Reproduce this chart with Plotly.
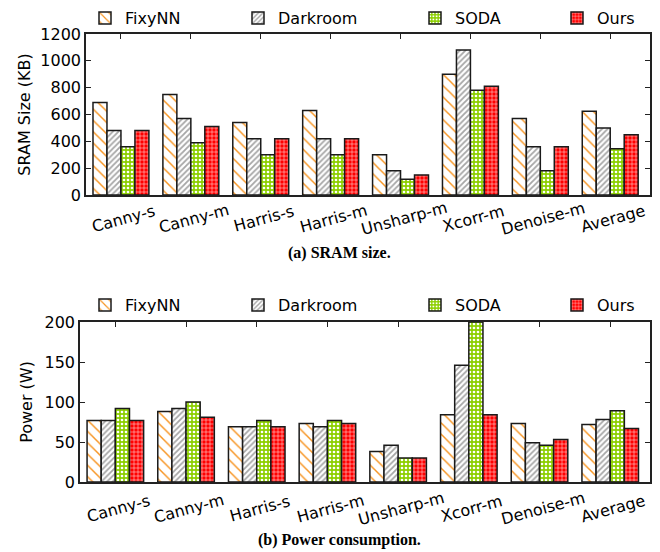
import plotly.graph_objects as go

categories = ["Canny-s", "Canny-m", "Harris-s", "Harris-m", "Unsharp-m", "Xcorr-m", "Denoise-m", "Average"]
series_names = ["FixyNN", "Darkroom", "SODA", "Ours"]

sram_fixynn = [690, 750, 540, 630, 300, 900, 570, 625]
sram_darkroom = [480, 570, 420, 420, 180, 1080, 360, 500]
sram_soda = [360, 390, 300, 300, 117, 780, 180, 345]
sram_ours = [480, 510, 420, 420, 150, 810, 360, 450]

power_fixynn = [77, 88, 69, 73, 38, 84, 73, 72]
power_darkroom = [77, 92, 69, 69, 46, 146, 49, 78]
power_soda = [92, 100, 77, 77, 30, 200, 46, 89]
power_ours = [77, 81, 69, 73, 30, 84, 53, 67]

sram_ticks = [0, 200, 400, 600, 800, 1000, 1200]
power_ticks = [0, 50, 100, 150, 200]

W, H = 660, 552
FONT = "DejaVu Sans"

styles = {
    "FixyNN": dict(color="white", pattern=dict(shape="\\", fgcolor="#f7931e", bgcolor="white", size=8, solidity=0.18, fillmode="replace")),
    "Darkroom": dict(color="white", pattern=dict(shape="/", fgcolor="#a6a6a6", bgcolor="white", size=4, solidity=0.45, fillmode="replace")),
    "SODA": dict(color="#8ccf00", pattern=dict(shape=".", fgcolor="white", bgcolor="#8ccf00", size=4, solidity=0.35, fillmode="replace")),
    "Ours": dict(color="#ff0000", pattern=dict(shape="+", fgcolor="white", bgcolor="#ff0000", size=4, solidity=0.22, fillmode="replace")),
}

fig = go.Figure()

top_data = [sram_fixynn, sram_darkroom, sram_soda, sram_ours]
bot_data = [power_fixynn, power_darkroom, power_soda, power_ours]

for i, (name, vals) in enumerate(zip(series_names, top_data)):
    st = styles[name]
    fig.add_trace(go.Bar(
        x=categories, y=vals, name=name, xaxis="x", yaxis="y",
        legend="legend" if i == 0 else f"legend{i+1}",
        marker=dict(color=st["color"], pattern=st["pattern"], line=dict(color="#1a1a1a", width=1.5)),
    ))
for i, (name, vals) in enumerate(zip(series_names, bot_data)):
    st = styles[name]
    fig.add_trace(go.Bar(
        x=categories, y=vals, name=name, xaxis="x2", yaxis="y2",
        legend=f"legend{i+5}",
        marker=dict(color=st["color"], pattern=st["pattern"], line=dict(color="#1a1a1a", width=1.5)),
    ))

def px_x(p):
    return p / W

def px_y(p):
    return 1 - p / H

axis_common = dict(showline=True, linecolor="#222", linewidth=1.5, mirror="ticks",
                   ticks="inside", ticklen=5, tickcolor="#222", showgrid=False, zeroline=False,
                   tickfont=dict(family=FONT, size=16, color="black"))

layout = dict(
    width=W, height=H,
    margin=dict(l=0, r=0, t=0, b=0, autoexpand=False),
    showlegend=True,
    paper_bgcolor="white", plot_bgcolor="white",
    barmode="group", bargap=0.2, bargroupgap=0,
    font=dict(family=FONT, size=16, color="black"),
    xaxis=dict(domain=[px_x(86), px_x(650)], anchor="y", showticklabels=False, **axis_common),
    yaxis=dict(domain=[px_y(195), px_y(34)], anchor="x", range=[0, 1200], tickvals=sram_ticks,
               title=dict(text="SRAM Size (KB)", font=dict(family=FONT, size=16), standoff=6), **axis_common),
    xaxis2=dict(domain=[px_x(80), px_x(650)], anchor="y2", showticklabels=False, **axis_common),
    yaxis2=dict(domain=[px_y(482), px_y(322)], anchor="x2", range=[0, 200], tickvals=power_ticks,
                title=dict(text="Power (W)", font=dict(family=FONT, size=16), standoff=8), **axis_common),
)

text_x = [125, 278, 455, 597]
for row, ycen in enumerate([18, 305]):
    for j, tx in enumerate(text_x):
        idx = row * 4 + j
        key = "legend" if idx == 0 else f"legend{idx+1}"
        layout[key] = dict(x=px_x(tx - 40), y=px_y(ycen), xanchor="left", yanchor="middle",
                           orientation="h", bgcolor="rgba(0,0,0,0)", borderwidth=0,
                           font=dict(family=FONT, size=16, color="black"))

fig.update_layout(**layout)

annotations = []
for cat in categories:
    annotations.append(dict(x=cat, y=px_y(218), xref="x", yref="paper", text=cat, showarrow=False,
                            xanchor="center", yanchor="middle",
                            textangle=-15, xshift=3, font=dict(family=FONT, size=16, color="black")))
    annotations.append(dict(x=cat, y=px_y(508), xref="x2", yref="paper", text=cat, showarrow=False,
                            xanchor="center", yanchor="middle",
                            textangle=-15, xshift=3, font=dict(family=FONT, size=16, color="black")))
annotations.append(dict(x=px_x(339), y=px_y(253), xref="paper", yref="paper", text="<b>(a) SRAM size.</b>",
                        xanchor="center", yanchor="middle",
                        showarrow=False, font=dict(family="Liberation Serif", size=16, color="black")))
annotations.append(dict(x=px_x(339), y=px_y(540), xref="paper", yref="paper", text="<b>(b) Power consumption.</b>",
                        xanchor="center", yanchor="middle",
                        showarrow=False, font=dict(family="Liberation Serif", size=16, color="black")))
fig.update_layout(annotations=annotations)

fig.write_html("out.html", config={"displayModeBar": False},
               post_script="document.body.style.margin='0';document.body.style.overflow='hidden';")
